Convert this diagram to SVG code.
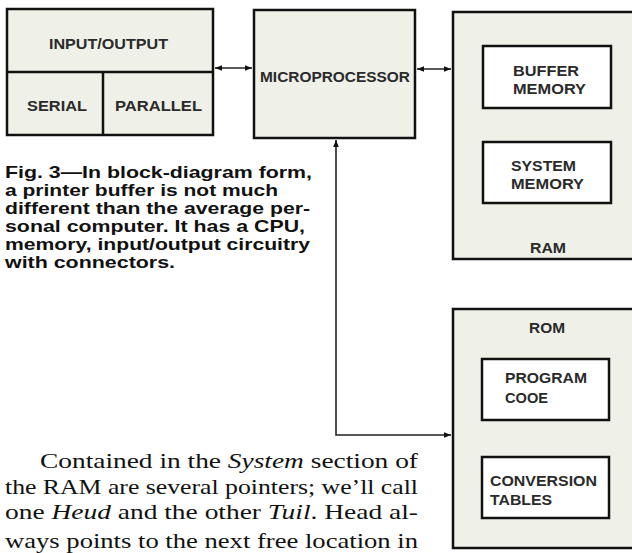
<svg xmlns="http://www.w3.org/2000/svg" width="632" height="553" viewBox="0 0 632 553">
<style>
.box{fill:#eff0e8;stroke:#111;stroke-width:2.5}
.inner{fill:#fff;stroke:#111;stroke-width:2.5}
.lbl{font-family:"Liberation Sans",Arial,sans-serif;font-weight:bold;font-size:15.5px;fill:#2a2a2a}
.cap{font-family:"Liberation Sans",Arial,sans-serif;font-weight:bold;font-size:17px;fill:#111}
.body{font-family:"Liberation Serif","Times New Roman",serif;font-size:21px;fill:#111}
.conn{fill:none;stroke:#222;stroke-width:1.6}
</style>
<defs>
<marker id="ah" viewBox="0 0 10 10" refX="10" refY="5" markerWidth="7" markerHeight="7" orient="auto-start-reverse" markerUnits="userSpaceOnUse">
<path d="M0,1 L10,5 L0,9 z" fill="#111"/>
</marker>
</defs>
<rect width="632" height="553" fill="#fff"/>
<g id="io">
<rect class="box" x="7" y="9" width="206" height="126"/>
<line x1="7" y1="72" x2="213" y2="72" stroke="#111" stroke-width="2.5"/>
<line x1="103" y1="72" x2="103" y2="135" stroke="#111" stroke-width="2.5"/>
<text class="lbl" x="49" y="49" textLength="119" lengthAdjust="spacingAndGlyphs">INPUT/OUTPUT</text>
<text class="lbl" x="27" y="111" textLength="60" lengthAdjust="spacingAndGlyphs">SERIAL</text>
<text class="lbl" x="115" y="111" textLength="87" lengthAdjust="spacingAndGlyphs">PARALLEL</text>
</g>
<g id="mp">
<rect class="box" x="254" y="10" width="161" height="128"/>
<text class="lbl" x="260" y="82" textLength="150" lengthAdjust="spacingAndGlyphs">MICROPROCESSOR</text>
</g>
<g id="ram">
<rect class="box" x="453" y="12" width="182" height="247"/>
<rect class="inner" x="483" y="46" width="128" height="62"/>
<text class="lbl" x="513" y="76" textLength="66" lengthAdjust="spacingAndGlyphs">BUFFER</text>
<text class="lbl" x="513" y="94" textLength="73" lengthAdjust="spacingAndGlyphs">MEMORY</text>
<rect class="inner" x="483" y="142" width="128" height="61"/>
<text class="lbl" x="511" y="171" textLength="65" lengthAdjust="spacingAndGlyphs">SYSTEM</text>
<text class="lbl" x="511" y="189" textLength="73" lengthAdjust="spacingAndGlyphs">MEMORY</text>
<text class="lbl" x="530" y="253" textLength="36" lengthAdjust="spacingAndGlyphs">RAM</text>
</g>
<g id="rom">
<rect class="box" x="453" y="309" width="182" height="239"/>
<text class="lbl" x="529" y="333" textLength="36" lengthAdjust="spacingAndGlyphs">ROM</text>
<rect class="inner" x="482" y="359" width="127" height="61"/>
<text class="lbl" x="505" y="383" textLength="82" lengthAdjust="spacingAndGlyphs">PROGRAM</text>
<text class="lbl" x="505" y="403" textLength="43" lengthAdjust="spacingAndGlyphs">COOE</text>
<rect class="inner" x="482" y="457" width="127" height="61"/>
<text class="lbl" x="490" y="486" textLength="107" lengthAdjust="spacingAndGlyphs">CONVERSION</text>
<text class="lbl" x="490" y="505" textLength="62" lengthAdjust="spacingAndGlyphs">TABLES</text>
</g>
<g id="connectors">
<line class="conn" x1="215" y1="68" x2="252" y2="68" marker-start="url(#ah)" marker-end="url(#ah)"/>
<line class="conn" x1="417" y1="69" x2="451" y2="69" marker-start="url(#ah)" marker-end="url(#ah)"/>
<polyline class="conn" points="336,140 336,435 451,435" marker-start="url(#ah)" marker-end="url(#ah)"/>
</g>
<g id="caption">
<text class="cap" x="5" y="178" textLength="307" lengthAdjust="spacingAndGlyphs">Fig. 3—In block-diagram form,</text>
<text class="cap" x="5" y="196" textLength="273" lengthAdjust="spacingAndGlyphs">a printer buffer is not much</text>
<text class="cap" x="5" y="214" textLength="305" lengthAdjust="spacingAndGlyphs">different than the average per-</text>
<text class="cap" x="5" y="232" textLength="300" lengthAdjust="spacingAndGlyphs">sonal computer. It has a CPU,</text>
<text class="cap" x="5" y="250" textLength="305" lengthAdjust="spacingAndGlyphs">memory, input/output circuitry</text>
<text class="cap" x="5" y="268" textLength="170" lengthAdjust="spacingAndGlyphs">with connectors.</text>
</g>
<g id="bodytext">
<text class="body" x="40" y="468" textLength="378" lengthAdjust="spacingAndGlyphs">Contained in the <tspan font-style="italic">System</tspan> section of</text>
<text class="body" x="5" y="494" textLength="413" lengthAdjust="spacingAndGlyphs">the RAM are several pointers; we’ll call</text>
<text class="body" x="5" y="519" textLength="413" lengthAdjust="spacingAndGlyphs">one <tspan font-style="italic">Heud</tspan> and the other <tspan font-style="italic">Tuil</tspan>. Head al-</text>
<text class="body" x="5" y="548" textLength="413" lengthAdjust="spacingAndGlyphs">ways points to the next free location in</text>
</g>
</svg>
